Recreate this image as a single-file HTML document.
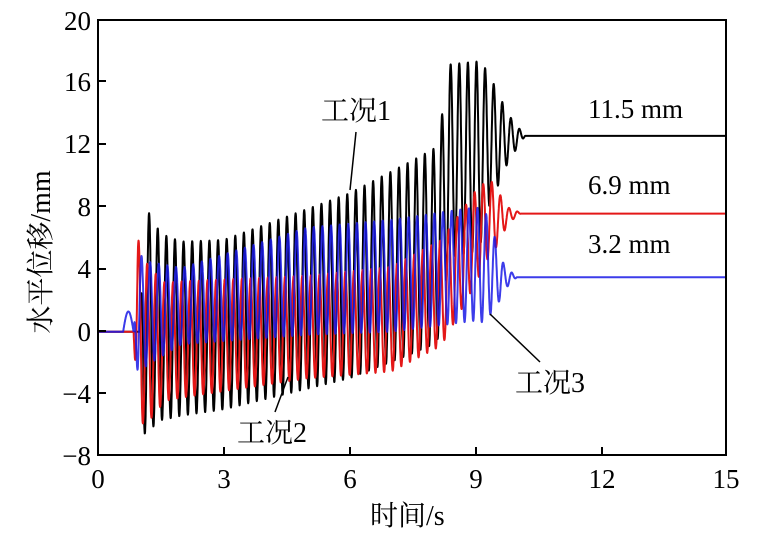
<!DOCTYPE html>
<html><head><meta charset="utf-8"><style>
body{margin:0;background:#fff}
svg text{font-family:"Liberation Serif","Noto Serif CJK SC",serif;fill:#000}
</style></head><body>
<svg id="s" width="767" height="540" viewBox="0 0 767 540" xmlns="http://www.w3.org/2000/svg">
<rect width="767" height="540" fill="#fff"/>
<g id="plots" fill="none" stroke-width="2" stroke-linejoin="round"></g>
<rect x="98" y="20" width="628" height="435" fill="none" stroke="#000" stroke-width="2"/>
<g stroke="#000" stroke-width="2">
<line x1="98" y1="81" x2="106" y2="81"/><line x1="98" y1="144" x2="106" y2="144"/>
<line x1="98" y1="206" x2="106" y2="206"/><line x1="98" y1="269" x2="106" y2="269"/>
<line x1="98" y1="331" x2="106" y2="331"/><line x1="98" y1="393" x2="106" y2="393"/>
<line x1="224" y1="455" x2="224" y2="447"/><line x1="350" y1="455" x2="350" y2="447"/>
<line x1="476" y1="455" x2="476" y2="447"/><line x1="602" y1="455" x2="602" y2="447"/>
</g>
<g font-size="27" text-anchor="end">
<text x="91" y="30">20</text><text x="91" y="91">16</text><text x="91" y="153">12</text>
<text x="91" y="216">8</text><text x="91" y="278">4</text><text x="91" y="341">0</text>
<text x="91" y="403">−4</text><text x="91" y="465">−8</text>
</g>
<g font-size="27" text-anchor="middle">
<text x="98" y="488">0</text><text x="224" y="488">3</text><text x="350" y="488">6</text>
<text x="476" y="488">9</text><text x="602" y="488">12</text><text x="726" y="488">15</text>
</g>
<text font-size="28" x="370" y="525">时间/s</text>
<text font-size="28" text-anchor="middle" transform="translate(50,252) rotate(-90)">水平位移/mm</text>
<g font-size="27">
<text x="588" y="118">11.5 mm</text>
<text x="588" y="194">6.9 mm</text>
<text x="588" y="253">3.2 mm</text>
</g>
<g font-size="28">
<text x="321" y="120">工况1</text>
<text x="237" y="442">工况2</text>
<text x="515" y="392">工况3</text>
</g>
<g stroke="#000" stroke-width="1.5">
<line x1="356" y1="132" x2="350" y2="190"/>
<line x1="275" y1="412" x2="288" y2="377"/>
<line x1="490" y1="314" x2="540" y2="362"/>
</g>
</svg>
<script>
var X=t=>98+t*41.87, Y=v=>331.7-v*15.54;
function I(pts,t){if(t<=pts[0][0])return pts[0][1];for(var i=1;i<pts.length;i++){if(t<=pts[i][0]){var a=pts[i-1],b=pts[i];return a[1]+(b[1]-a[1])*(t-a[0])/(b[0]-a[0]);}}return pts[pts.length-1][1];}
function path(f){var d="";for(var t=0;t<=15;t+=0.004){d+=(d?"L":"M")+X(t).toFixed(1)+" "+Y(f(t)).toFixed(1);}return d;}
var f=4.86,w=2*Math.PI*f;
var bc=[[1.1,0.8],[1.5,0.3],[2,0.2],[3,0.45],[6,2.95],[7.5,4.8],[8.1,5.6],[8.4,11],[9.1,11.3],[9.3,12.3],[10.2,12.6]];
var ba=[[1.1,7.4],[1.5,6.0],[2,5.6],[3,5.45],[6,5.95],[7.5,6.2],[8.1,6.3],[8.4,6.2],[9.1,6.1],[9.3,4.5],[9.8,1.5],[10.2,0]];
function black(t){if(t<1.0)return 0;if(t>10.2)return 12.6;var e=t<1.1?(t-1.0)/0.1:1;return e*(I(bc,t)+I(ba,t)*Math.cos(w*(t-9.04)));}
var rc=[[0.95,0],[1.2,-0.8],[2,-0.5],[5,0.3],[7,0.8],[8.2,2.5],[9.0,6.0],[9.3,7.2],[10,7.6]];
var ra=[[0.95,6],[1.2,5],[1.6,3.8],[5,3.3],[8.2,3.4],[9.0,3.0],[9.4,2.4],[9.8,0.5],[10.1,0]];
function red(t){if(t<0.85)return 0;if(t>10.1)return 7.6;var e=t<0.95?(t-0.85)/0.1:1;return e*(I(rc,t)+I(ra,t)*Math.cos(w*(t-9.2)));}
var lc=[[0.9,1.2],[1.2,1.2],[2,1.65],[5,3.25],[7,3.6],[9.0,4.35],[9.3,4.2],[9.6,3.5]];
var la=[[0.9,4],[1.2,3.3],[2,2.45],[5,3.45],[7,3.6],[9.2,3.65],[9.4,2.8],[9.7,0.8],[10,0]];
function blue(t){if(t<0.6)return 0;if(t<0.85)return 1.3*Math.sin(Math.PI*(t-0.6)/0.25);if(t>10)return 3.5;var e=t<0.95?(t-0.85)/0.1:1;return e*(I(lc,t)+I(la,t)*Math.cos(w*(t-9.27)));}
var g=document.getElementById("plots"),ns="http://www.w3.org/2000/svg";
[[black,"#000",1],[red,"#e41818",1],[blue,"#1a1ae6",0.85]].forEach(function(p){
 var e=document.createElementNS(ns,"path");e.setAttribute("d",path(p[0]));e.setAttribute("stroke",p[1]);e.setAttribute("stroke-opacity",p[2]);g.appendChild(e);});
</script>
</body></html>
